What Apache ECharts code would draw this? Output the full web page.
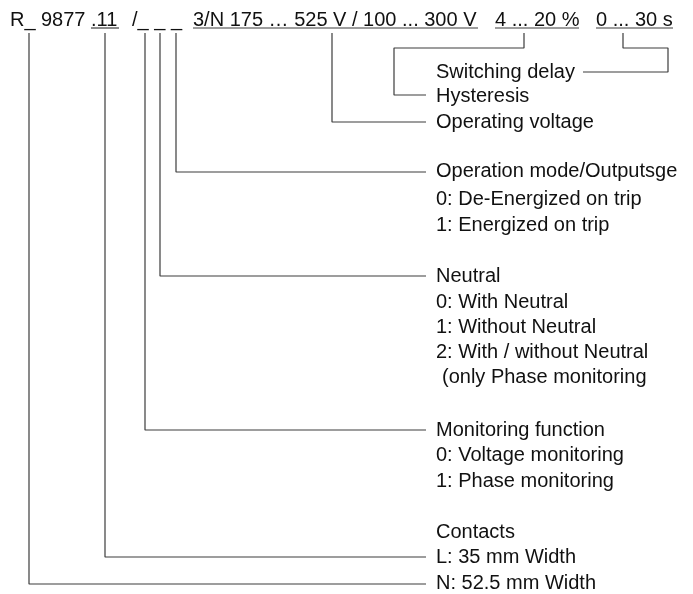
<!DOCTYPE html>
<html lang="en">
<head>
    <meta charset="UTF-8">
    <title>R 9877 ordering code</title>
    <script src="https://cdn.jsdelivr.net/npm/echarts@6/dist/echarts.min.js"></script>
    <style>
        html, body { margin: 0; padding: 0; background: #fff; }
        #chart { width: 693px; height: 594px; }
    </style>
</head>
<body>
    <div id="chart"></div>

    <script>
        // header pieces of the ordering code and where they start
        const headerText = ['R_', '9877', '.11', '/_ _ _', '3/N 175 \u2026 525 V / 100 ... 300 V', '4 ... 20 %', '0 ... 30 s'];
        const headerX = [10, 41, 91, 132, 193, 495, 596];
        const headerY = 20;

        // underlined segments [x start, x end]
        const underlines = [[91, 119], [193, 478], [495, 579], [596, 673]];
        const underlineY = 28;

        // leader lines from the code down/right to the descriptions
        const leaderWidth = [[29, 33], [29, 584], [426, 584]];
        const leaderContacts = [[105, 33], [105, 557], [426, 557]];
        const leaderMonitoring = [[145, 33], [145, 430], [426, 430]];
        const leaderNeutral = [[160, 33], [160, 276], [426, 276]];
        const leaderMode = [[176, 33], [176, 172], [426, 172]];
        const leaderVoltage = [[332, 33], [332, 122], [426, 122]];
        const leaderHysteresis = [[524, 33], [524, 48], [394, 48], [394, 95], [426, 95]];
        const leaderDelay = [[623, 33], [623, 48], [668, 48], [668, 72], [583, 72]];

        // description texts
        const descText = [
            'Switching delay', 'Hysteresis', 'Operating voltage',
            'Operation mode/Outputsge', '0: De-Energized on trip', '1: Energized on trip',
            'Neutral', '0: With Neutral', '1: Without Neutral', '2: With / without Neutral', '(only Phase monitoring',
            'Monitoring function', '0: Voltage monitoring', '1: Phase monitoring',
            'Contacts', 'L: 35 mm Width', 'N: 52.5 mm Width'
        ];
        const descX = [436, 436, 436, 436, 436, 436, 436, 436, 436, 436, 442, 436, 436, 436, 436, 436, 436];
        const descY = [72, 96, 122, 171, 199, 225, 276, 302, 327, 352, 377, 430, 455, 481, 532, 557, 583];

        const chart = echarts.init(document.getElementById('chart'));

        const lineStyle = { color: '#3c3c3c', width: 1.2, opacity: 1 };
        const textStyle = {
            show: true,
            position: [0, 0],
            align: 'left',
            verticalAlign: 'middle',
            color: '#111',
            fontSize: 20,
            fontFamily: 'Liberation Sans, Arial, sans-serif',
            formatter: p => p.value[2]
        };

        function pathSeries(points) {
            return {
                type: 'line',
                data: points,
                showSymbol: false,
                lineStyle: lineStyle,
                silent: true
            };
        }

        const leaders = [leaderWidth, leaderContacts, leaderMonitoring, leaderNeutral,
            leaderMode, leaderVoltage, leaderHysteresis, leaderDelay];

        const series = leaders.map(pathSeries);
        underlines.forEach(u => {
            series.push(pathSeries([[u[0], underlineY], [u[1], underlineY]]));
        });

        series.push({
            type: 'scatter',
            symbolSize: 0,
            itemStyle: { opacity: 1 },
            data: headerText.map((t, i) => [headerX[i], headerY, t]),
            label: textStyle,
            silent: true
        });
        series.push({
            type: 'scatter',
            symbolSize: 0,
            itemStyle: { opacity: 1 },
            data: descText.map((t, i) => [descX[i], descY[i], t]),
            label: textStyle,
            silent: true
        });

        chart.setOption({
            animation: false,
            grid: { left: 0, right: 0, top: 0, bottom: 0 },
            xAxis: { type: 'value', min: 0, max: 693, show: false },
            yAxis: { type: 'value', min: 0, max: 594, inverse: true, show: false },
            series: series
        });
    </script>
</body>
</html>
